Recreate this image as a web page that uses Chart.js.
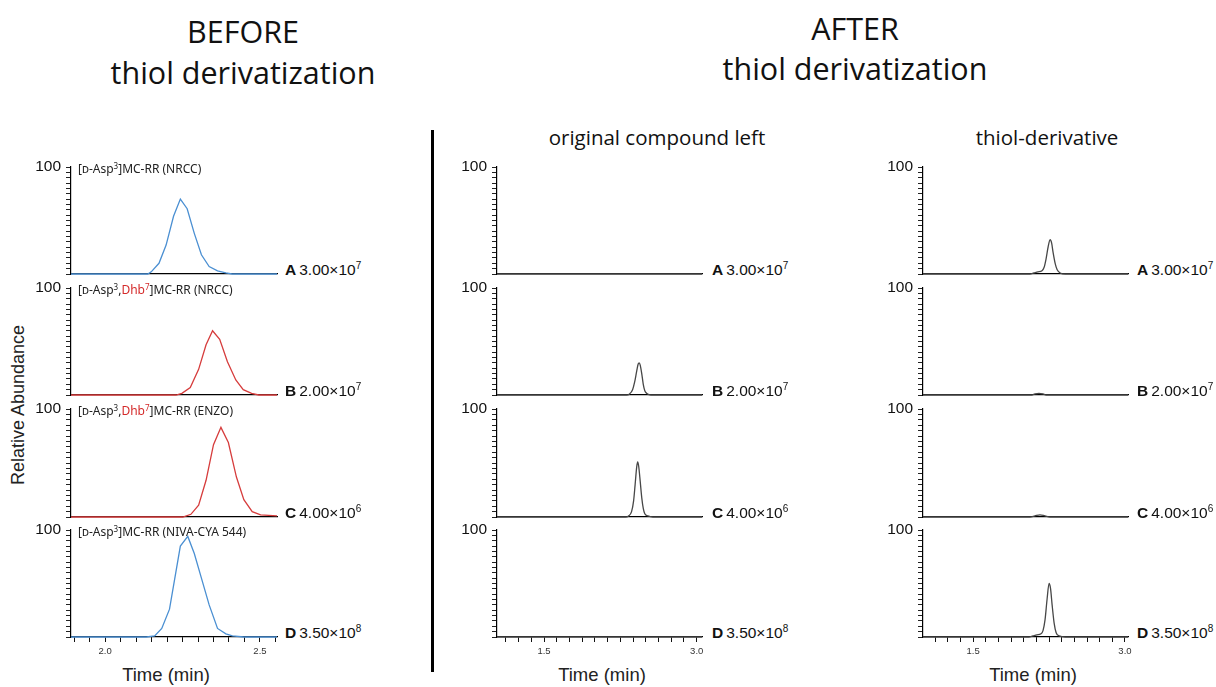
<!DOCTYPE html>
<html>
<head>
<meta charset="utf-8">
<script src="https://cdn.jsdelivr.net/npm/chart.js@4.4.0/dist/chart.umd.min.js"></script>
<style>
body { margin: 0; width: 1216px; height: 687px; background: #fff; position: relative; overflow: hidden; font-family: "Liberation Sans", Arial, sans-serif; color: #111; }
.c { position: absolute; transform: translate(-50%, -50%); white-space: nowrap; }
.head { font-family: "Open Sans", sans-serif; font-size: 30.5px; color: #111; }
.sub { font-family: "Open Sans", sans-serif; font-size: 20.5px; color: #111; }
.time { font-size: 18.5px; color: #222; }
.tag { position: absolute; transform: translateY(-50%); white-space: nowrap; font-size: 15.5px; color: #111; }
.tag b { margin-right: 3px; }
.tag sup { font-size: 10px; vertical-align: 6px; line-height: 0; }
.cmp { position: absolute; white-space: nowrap; font-family: "Noto Sans", sans-serif; font-size: 12px; color: #222; transform: translateY(-50%); }
.cmp .sc { font-variant: small-caps; }
.cmp .red { color: #d42a2a; }
.cmp sup { font-size: 8px; vertical-align: 4px; line-height: 0; }
</style>
</head>
<body>
<div class="c head" style="left:243px;top:31px">BEFORE</div>
<div class="c head" style="left:243px;top:72px">thiol derivatization</div>
<div class="c head" style="left:855px;top:28px">AFTER</div>
<div class="c head" style="left:855px;top:68px">thiol derivatization</div>
<div class="c sub" style="left:657px;top:137px">original compound left</div>
<div class="c sub" style="left:1047px;top:137px">thiol-derivative</div>
<div style="position:absolute;left:431px;top:130px;width:3px;height:542px;background:#000"></div>
<div class="c time" style="left:18px;top:405px;font-size:18px;transform:translate(-50%,-50%) rotate(-90deg)">Relative Abundance</div>
<div class="c time" style="left:166px;top:675px">Time (min)</div>
<div class="c time" style="left:602px;top:675px">Time (min)</div>
<div class="c time" style="left:1033px;top:675px">Time (min)</div>

<script>
// row labels and compound names
const rowLetters = ['A', 'B', 'C', 'D'];
const rowScales = ['3.00×10<sup>7</sup>', '2.00×10<sup>7</sup>', '4.00×10<sup>6</sup>', '3.50×10<sup>8</sup>'];
const compounds = [
    '[<span class="sc">d</span>-Asp<sup>3</sup>]MC-RR (NRCC)',
    '[<span class="sc">d</span>-Asp<sup>3</sup>,<span class="red">Dhb<sup>7</sup></span>]MC-RR (NRCC)',
    '[<span class="sc">d</span>-Asp<sup>3</sup>,<span class="red">Dhb<sup>7</sup></span>]MC-RR (ENZO)',
    '[<span class="sc">d</span>-Asp<sup>3</sup>]MC-RR (NIVA-CYA 544)'
];

// BEFORE thiol derivatization (time in min, relative abundance in %)
const beforeTimeA = [1.89, 2.138, 2.149, 2.174, 2.197, 2.221, 2.243, 2.265, 2.288, 2.311, 2.336, 2.363, 2.39, 2.41, 2.555];
const beforeAbundA = [0, 0, 2, 10, 27, 54, 70, 61, 38, 18, 7, 3, 1, 0, 0];
const beforeTimeB = [1.89, 2.229, 2.248, 2.275, 2.302, 2.326, 2.347, 2.370, 2.395, 2.422, 2.446, 2.473, 2.496, 2.555];
const beforeAbundB = [0, 0, 1.6, 7, 24, 47, 60, 52, 31, 14, 5, 1.5, 0, 0];
const beforeTimeC = [1.89, 2.251, 2.277, 2.302, 2.326, 2.350, 2.374, 2.398, 2.424, 2.448, 2.475, 2.502, 2.555];
const beforeAbundC = [0, 0, 2.5, 11, 34, 67, 83, 69, 37, 16, 5, 2, 1];
const beforeTimeD = [1.89, 2.133, 2.160, 2.183, 2.208, 2.243, 2.267, 2.288, 2.311, 2.336, 2.363, 2.39, 2.411, 2.448, 2.555];
const beforeAbundD = [0, 0, 1, 8, 26, 85, 94, 78, 55, 30, 8, 3, 1, 0, 0];

// AFTER: original compound left
const origTimeA = [1.038, 3.052];
const origAbundA = [0, 0];
const origTimeB = [1.038, 2.31, 2.34, 2.37, 2.39, 2.41, 2.425, 2.435, 2.445, 2.46, 2.475, 2.49, 2.51, 2.55, 3.052];
const origAbundB = [0, 0, 1, 5, 12, 22, 29, 30, 28, 20, 10, 4, 1.5, 0, 0];
const origTimeC = [1.038, 2.30, 2.33, 2.36, 2.38, 2.395, 2.41, 2.42, 2.43, 2.445, 2.46, 2.475, 2.49, 2.52, 2.57, 3.052];
const origAbundC = [0, 0, 1, 5, 15, 30, 46, 51, 47, 33, 18, 8, 3, 1, 0, 0];
const origTimeD = [1.038, 3.052];
const origAbundD = [0, 0];

// AFTER: thiol-derivative
const thiolTimeA = [1.004, 2.06, 2.10, 2.14, 2.18, 2.20, 2.22, 2.24, 2.26, 2.275, 2.29, 2.31, 2.33, 2.36, 2.41, 3.03];
const thiolAbundA = [0, 0, 1, 2, 3, 6, 14, 25, 32, 29, 20, 10, 4, 1, 0, 0];
const thiolTimeB = [1.004, 2.08, 2.11, 2.15, 2.19, 2.22, 3.03];
const thiolAbundB = [0, 0, 1, 1.6, 1, 0, 0];
const thiolTimeC = [1.004, 2.06, 2.11, 2.16, 2.21, 2.26, 3.03];
const thiolAbundC = [0, 0, 1, 2, 1, 0, 0];
const thiolTimeD = [1.004, 2.05, 2.09, 2.13, 2.17, 2.19, 2.21, 2.23, 2.25, 2.265, 2.28, 2.30, 2.32, 2.35, 2.41, 3.03];
const thiolAbundD = [0, 0, 1, 2, 3, 6, 16, 35, 50, 45, 30, 13, 4, 1, 0, 0];

// axis ticks
const yTicks = [0, 5, 10, 15, 20, 25, 30, 35, 40, 45, 50, 55, 60, 65, 70, 75, 80, 85, 90, 95, 100];
const beforeTicks = [1.90, 1.95, 2.00, 2.05, 2.10, 2.15, 2.20, 2.25, 2.30, 2.35, 2.40, 2.45, 2.50, 2.55];
const beforeTickLabels = [2.0, 2.5];
const afterTicks = [1.125, 1.25, 1.375, 1.5, 1.625, 1.75, 1.875, 2.0, 2.125, 2.25, 2.375, 2.5, 2.625, 2.75, 2.875, 3.0];
const afterTickLabels = [1.5, 3.0];

// panel geometry
const rowTop = [167, 288, 409, 530];
const rowBottom = [274, 395, 517, 637];
const cols = [
    { left: 71, right: 277, min: 1.89, max: 2.555, ticks: beforeTicks, labels: beforeTickLabels, tagX: 285 },
    { left: 497, right: 702, min: 1.038, max: 3.052, ticks: afterTicks, labels: afterTickLabels, tagX: 712 },
    { left: 923, right: 1128, min: 1.004, max: 3.03, ticks: afterTicks, labels: afterTickLabels, tagX: 1137 }
];

function makePanel(colIdx, row, times, values, color, smooth) {
    const c = cols[colIdx];
    const padL = 60, padT = 12, padR = 8;
    const padB = row === 3 ? 40 : 6;
    const w = padL + (c.right - c.left) + padR;
    const h = padT + (rowBottom[row] - rowTop[row]) + padB;
    const canvas = document.createElement('canvas');
    canvas.width = w;
    canvas.height = h;
    canvas.style.cssText = 'position:absolute;left:' + (c.left - padL) + 'px;top:' + (rowTop[row] - padT) + 'px;width:' + w + 'px;height:' + h + 'px';
    document.body.appendChild(canvas);

    new Chart(canvas, {
        type: 'line',
        data: {
            datasets: [{
                data: times.map((t, i) => ({ x: t, y: values[i] })),
                borderColor: color,
                borderWidth: 1.3,
                pointRadius: 0,
                tension: smooth ? 0.4 : 0,
                cubicInterpolationMode: smooth ? 'monotone' : 'default',
                fill: false,
                clip: 6
            }]
        },
        options: {
            responsive: false,
            animation: false,
            devicePixelRatio: 1,
            layout: { padding: { top: padT, right: padR, left: 0, bottom: 0 } },
            plugins: { legend: { display: false }, tooltip: { enabled: false } },
            scales: {
                x: {
                    type: 'linear',
                    min: c.min,
                    max: c.max,
                    z: colIdx > 0 ? 1 : 0,
                    afterFit: s => { s.height = padB; s.paddingLeft = 0; s.paddingRight = 0; },
                    afterBuildTicks: s => { s.ticks = c.ticks.map(v => ({ value: v })); },
                    grid: { display: row === 3, drawOnChartArea: false, tickLength: 5, color: '#111', lineWidth: 1 },
                    border: { display: true, color: '#000', width: 1.2 },
                    ticks: {
                        display: row === 3,
                        autoSkip: false,
                        maxRotation: 0,
                        padding: 4,
                        color: '#333',
                        font: { family: 'Liberation Sans', size: 9.5 },
                        callback: v => {
                            const hit = c.labels.find(l => Math.abs(l - v) < 1e-6);
                            return hit !== undefined ? hit.toFixed(1) : '';
                        }
                    }
                },
                y: {
                    min: 0,
                    max: 100,
                    afterFit: s => { s.width = padL; s.paddingTop = 0; s.paddingBottom = 0; },
                    afterBuildTicks: s => { s.ticks = yTicks.map(v => ({ value: v })); },
                    grid: { drawOnChartArea: false, drawTicks: true, tickLength: 5, color: '#222', lineWidth: 1 },
                    border: { display: true, color: '#000', width: 1.2 },
                    ticks: {
                        autoSkip: false,
                        padding: 5,
                        color: '#111',
                        font: { family: 'Liberation Sans', size: 15.5 },
                        callback: v => (v === 100 ? '100' : '')
                    }
                }
            }
        }
    });

    const tag = document.createElement('div');
    tag.className = 'tag';
    tag.style.left = c.tagX + 'px';
    tag.style.top = (rowBottom[row] - 4) + 'px';
    tag.innerHTML = '<b>' + rowLetters[row] + '</b>' + rowScales[row];
    document.body.appendChild(tag);
}

const blue = '#4a8fd2';
const red = '#d63c3c';
const dark = '#474747';

makePanel(0, 0, beforeTimeA, beforeAbundA, blue, false);
makePanel(0, 1, beforeTimeB, beforeAbundB, red, false);
makePanel(0, 2, beforeTimeC, beforeAbundC, red, false);
makePanel(0, 3, beforeTimeD, beforeAbundD, blue, false);

makePanel(1, 0, origTimeA, origAbundA, dark, true);
makePanel(1, 1, origTimeB, origAbundB, dark, true);
makePanel(1, 2, origTimeC, origAbundC, dark, true);
makePanel(1, 3, origTimeD, origAbundD, dark, true);

makePanel(2, 0, thiolTimeA, thiolAbundA, dark, true);
makePanel(2, 1, thiolTimeB, thiolAbundB, dark, true);
makePanel(2, 2, thiolTimeC, thiolAbundC, dark, true);
makePanel(2, 3, thiolTimeD, thiolAbundD, dark, true);

compounds.forEach((html, row) => {
    const d = document.createElement('div');
    d.className = 'cmp';
    d.style.left = '78px';
    d.style.top = (rowTop[row] + 1) + 'px';
    d.innerHTML = html;
    document.body.appendChild(d);
});
</script>
</body>
</html>
